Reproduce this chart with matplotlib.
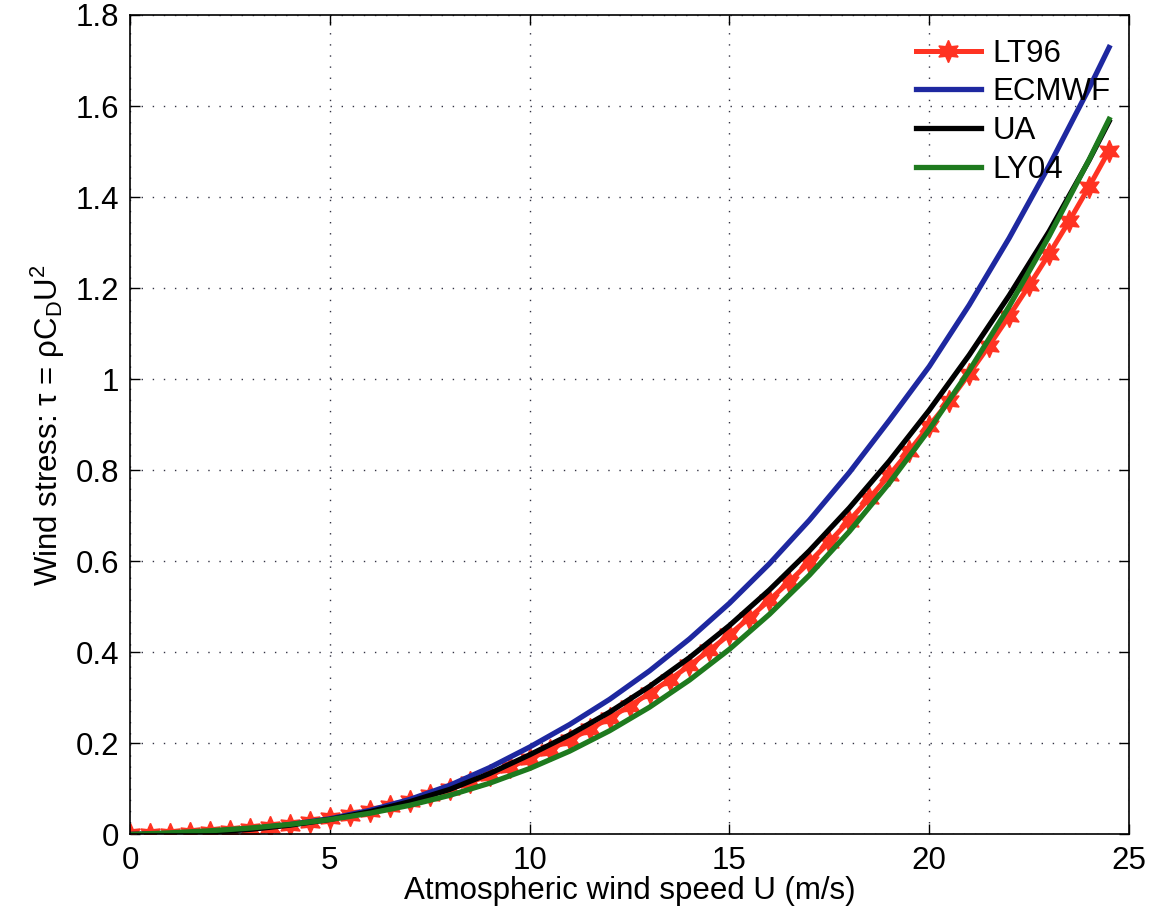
import numpy as np
import matplotlib
matplotlib.use('Agg')
import matplotlib.pyplot as plt
from matplotlib.ticker import MultipleLocator, FormatStrFormatter

plt.rcParams['font.family'] = ['Liberation Sans', 'DejaVu Sans']
plt.rcParams['mathtext.fontset'] = 'custom'
plt.rcParams['mathtext.rm'] = 'Liberation Sans'
plt.rcParams['mathtext.default'] = 'regular'

# wind speed grids (m/s)
u_lt96 = np.arange(0, 24.51, 0.5)
u_line = np.array([0, 1, 2, 3, 4, 5, 6, 7, 8, 9, 10, 11, 12, 13, 14, 15, 16,
                   17, 18, 19, 20, 21, 22, 23, 24, 24.5])

# wind stress (N/m2)
tau_lt96 = [0.0, 0.0003, 0.0012, 0.0028, 0.0050, 0.0080, 0.0118, 0.0164,
            0.0218, 0.0280, 0.0353, 0.0434, 0.0526, 0.0627, 0.0740, 0.0863,
            0.0998, 0.1145, 0.1304, 0.1476, 0.166, 0.1862, 0.2079, 0.2311,
            0.2559, 0.2822, 0.3102, 0.3398, 0.3712, 0.4044, 0.4393, 0.4761,
            0.5148, 0.5555, 0.5981, 0.6427, 0.6895, 0.7383, 0.7893, 0.8425,
            0.898, 0.952, 1.012, 1.074, 1.139, 1.206, 1.275, 1.347, 1.423,
            1.502]
tau_ecmwf = [0.0, 0.0013, 0.0054, 0.0122, 0.0218, 0.0345, 0.053, 0.077,
             0.108, 0.147, 0.192, 0.2415, 0.2968, 0.3594, 0.4296, 0.5079,
             0.5947, 0.6903, 0.7951, 0.9095, 1.028, 1.163, 1.310, 1.469,
             1.639, 1.7286]
tau_ua = [0.0, 0.0012, 0.005, 0.0113, 0.0205, 0.033, 0.050, 0.072, 0.099,
          0.134, 0.175, 0.2188, 0.2687, 0.3252, 0.3885, 0.459, 0.5371,
          0.6231, 0.7173, 0.8202, 0.932, 1.0531, 1.1839, 1.3246, 1.481,
          1.566]
tau_ly04 = [0.0, 0.0036, 0.0081, 0.0141, 0.0221, 0.0328, 0.0466, 0.0641,
            0.0860, 0.1127, 0.1449, 0.1830, 0.2278, 0.2796, 0.3392, 0.4069,
            0.4836, 0.5695, 0.6655, 0.7720, 0.8895, 1.0187, 1.1601, 1.3143,
            1.4822, 1.5708]

fig = plt.figure(figsize=(11.58, 9.14), dpi=100)
ax = fig.add_axes([0.1123, 0.087, 0.8627, 0.8966])

ax.plot(u_lt96, tau_lt96, color='#ff3322', lw=3.6, marker=(6, 1, 0),
        markersize=16, markeredgecolor='#ff3322', label='LT96')
ax.plot(u_line, tau_ecmwf, color='#1e28a0', lw=3.8, label='ECMWF')
ax.plot(u_line, tau_ua, color='black', lw=3.8, label='UA')
ax.plot(u_line, tau_ly04, color='#1e7a1e', lw=3.8, label='LY04')

ax.set_xlim(0, 25)
ax.set_ylim(0, 1.8)
ax.xaxis.set_major_locator(MultipleLocator(5))
ax.yaxis.set_major_locator(MultipleLocator(0.2))
ax.yaxis.set_major_formatter(FormatStrFormatter('%g'))
ax.grid(True, linestyle=(0, (1, 7)), color='#333344', lw=1.0)
ax.tick_params(direction='in', top=True, right=True, length=7, width=1,
               labelsize=22.5, pad=8)
for s in ax.spines.values():
    s.set_linewidth(1.2)

ax.set_xlabel('Atmospheric wind speed U (m/s)', fontsize=22.5, labelpad=0)
ax.set_ylabel('Wind stress: τ = ρC$_D$U$^2$', fontsize=22.5, labelpad=6)

ax.legend(loc='upper right', bbox_to_anchor=(1.0, 0.994), frameon=False,
          fontsize=22.5, handlelength=2.1, labelspacing=0.28,
          handletextpad=0.35, borderaxespad=0.2, borderpad=0.4)

fig.savefig('out.png', dpi=100)
